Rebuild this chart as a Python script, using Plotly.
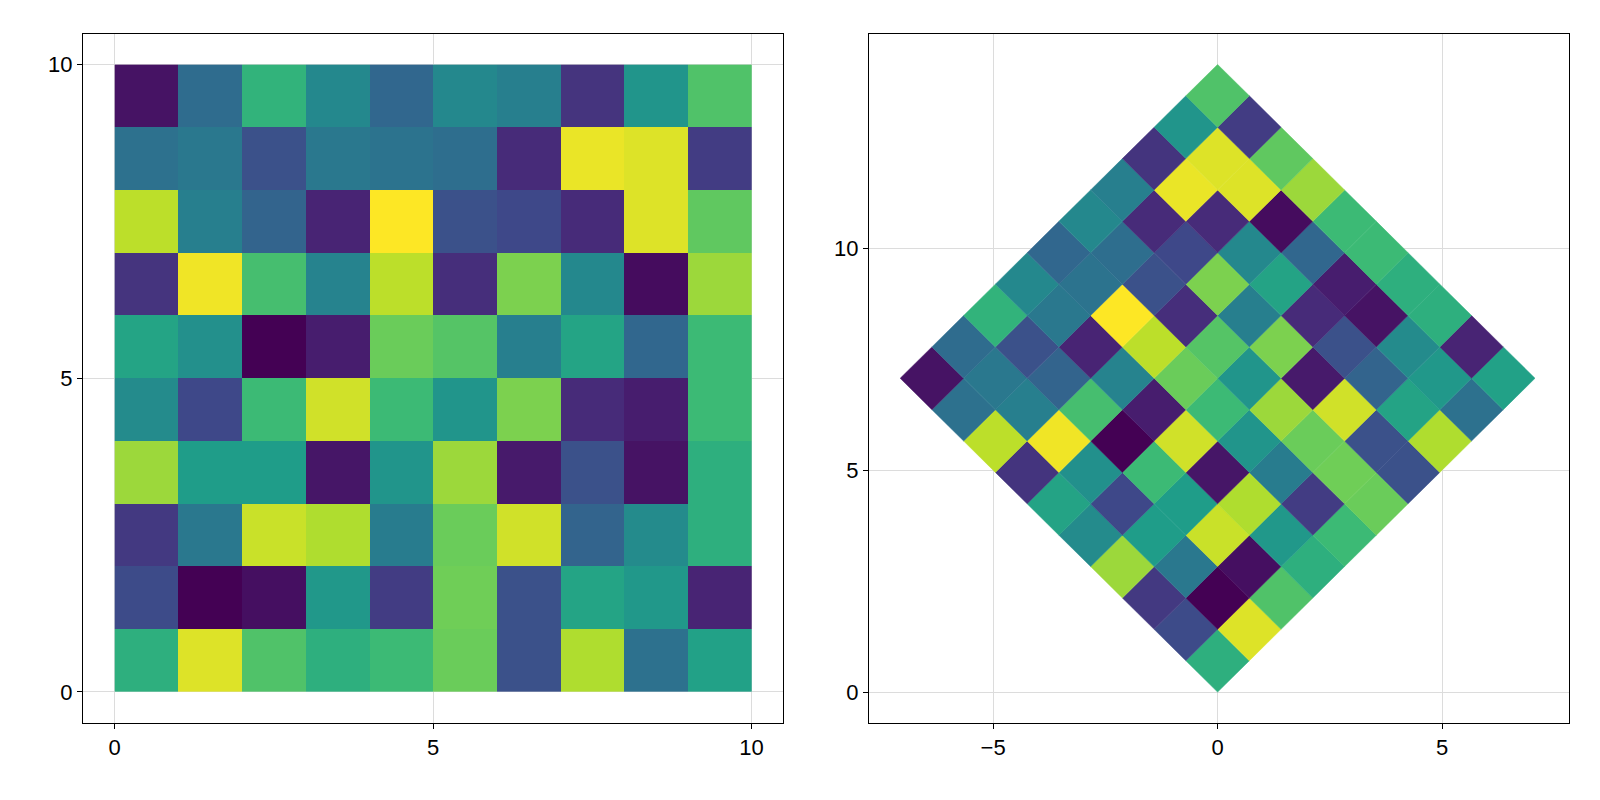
import numpy as np
import plotly.graph_objects as go
from plotly.colors import sample_colorscale

# rows listed from y=9 (top) down to y=0
rows_top_down = [
    [0.05, 0.35, 0.65, 0.47, 0.33, 0.47, 0.43, 0.15, 0.52, 0.72],
    [0.37, 0.40, 0.25, 0.40, 0.38, 0.36, 0.12, 0.97, 0.95, 0.18],
    [0.90, 0.43, 0.32, 0.10, 1.00, 0.25, 0.22, 0.12, 0.95, 0.75],
    [0.15, 0.98, 0.70, 0.45, 0.90, 0.13, 0.80, 0.47, 0.03, 0.85],
    [0.58, 0.50, 0.00, 0.08, 0.77, 0.73, 0.43, 0.58, 0.33, 0.68],
    [0.48, 0.22, 0.68, 0.93, 0.68, 0.52, 0.80, 0.12, 0.08, 0.68],
    [0.85, 0.55, 0.55, 0.06, 0.52, 0.85, 0.07, 0.25, 0.05, 0.63],
    [0.17, 0.40, 0.92, 0.88, 0.42, 0.77, 0.93, 0.32, 0.48, 0.63],
    [0.23, 0.00, 0.04, 0.53, 0.18, 0.78, 0.25, 0.58, 0.53, 0.10],
    [0.63, 0.95, 0.72, 0.63, 0.68, 0.77, 0.25, 0.88, 0.37, 0.57],
]
Z = np.array(rows_top_down[::-1])  # Z[row_y][col_x]
edges = np.arange(11)

fig = go.Figure()
fig.add_trace(go.Heatmap(z=Z, x=edges, y=edges, colorscale="Viridis", zmin=0, zmax=1,
                         showscale=False, xaxis="x", yaxis="y"))

s = 1 / np.sqrt(2)
def rot(x, y):
    return (x - y) * s, (x + y) * s

for j in range(10):
    for i in range(10):
        cx = [i, i + 1, i + 1, i, i]
        cy = [j, j, j + 1, j + 1, j]
        px, py = zip(*[rot(a, b) for a, b in zip(cx, cy)])
        col = sample_colorscale("Viridis", [Z[j, i]])[0]
        fig.add_trace(go.Scatter(x=px, y=py, mode="lines", fill="toself", fillcolor=col,
                                 line=dict(width=0.5, color=col), hoverinfo="skip",
                                 showlegend=False, xaxis="x2", yaxis="y2"))

ax = dict(showline=True, linecolor="black", mirror=True, showgrid=True, gridcolor="#dcdcdc",
          zeroline=False, ticks="outside", ticklen=5, tickcolor="black",
          tickfont=dict(size=22, color="black"))
fig.update_layout(
    width=1600, height=800, plot_bgcolor="white", paper_bgcolor="white",
    margin=dict(l=0, r=0, t=0, b=0), showlegend=False,
    font=dict(family="Liberation Sans"),
    xaxis=dict(domain=[0.0468, 0.4846], range=[-0.5, 10.5], tickvals=[0, 5, 10], **ax),
    yaxis=dict(domain=[0.1066, 0.9676], range=[-0.49, 10.49], tickvals=[0, 5, 10], **ax),
    xaxis2=dict(domain=[0.538, 0.9754], range=[-7.77, 7.82], tickvals=[-5, 0, 5],
                ticktext=["−5", "0", "5"], anchor="y2", **ax),
    yaxis2=dict(domain=[0.1066, 0.9676], range=[-0.69, 14.83], tickvals=[0, 5, 10], anchor="x2", **ax),
)
fig.write_html("out.html")
